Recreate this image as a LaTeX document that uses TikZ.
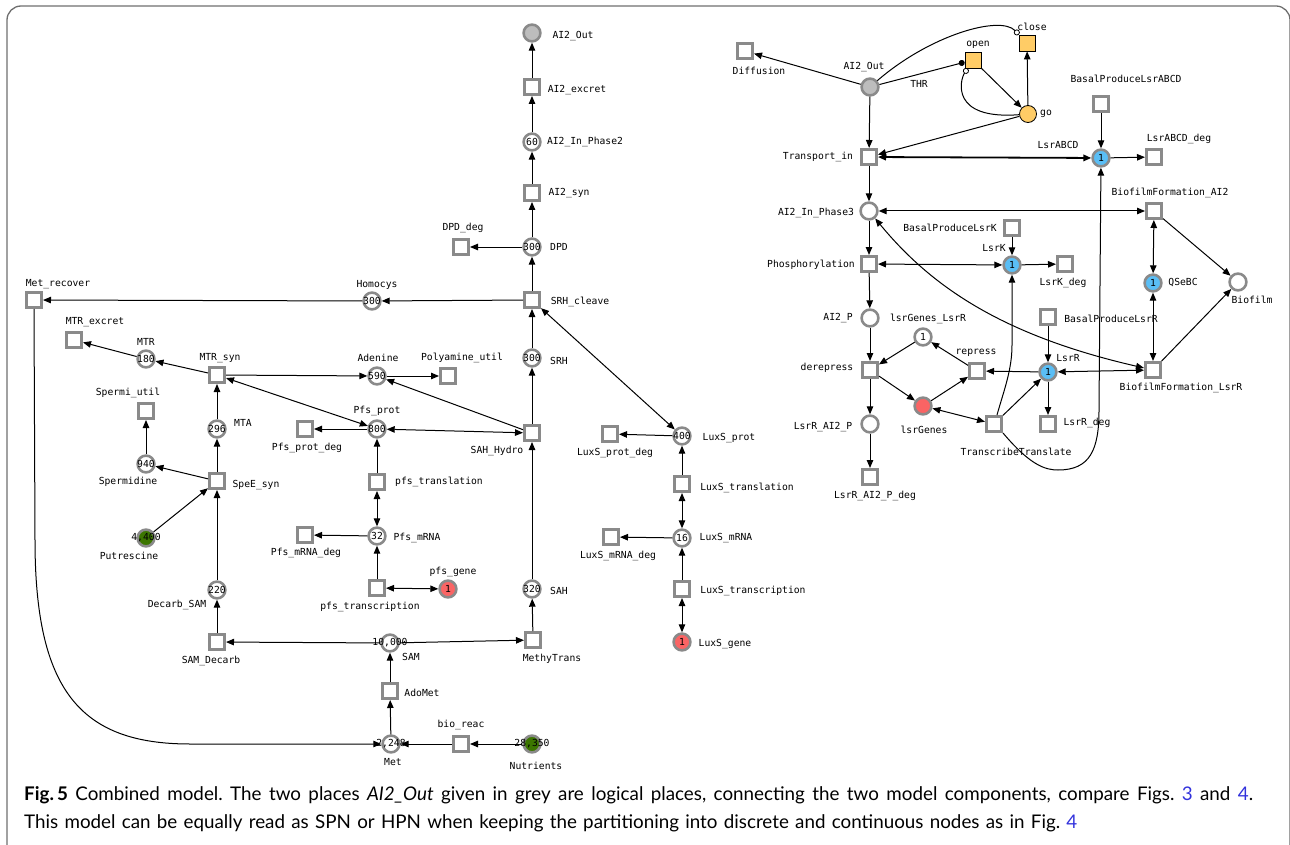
\documentclass[tikz,border=0pt]{standalone}
\usepackage{fontspec}
\usetikzlibrary{arrows.meta}
\newfontfamily\lblfont{DejaVu Sans Mono}
\newfontfamily\capfont{Lato}
\frenchspacing
\definecolor{bordergray}{HTML}{8A8A8A}
\definecolor{framegray}{HTML}{6E6E6E}
\definecolor{plblue}{RGB}{90,190,245}
\definecolor{plred}{RGB}{250,100,100}
\definecolor{plgreen}{RGB}{60,118,0}
\definecolor{plgrayfill}{HTML}{BDBDBD}
\definecolor{orangefill}{HTML}{FFCC66}
\definecolor{linkblue}{RGB}{50,50,220}
\newcommand{\lbl}{\lblfont\fontsize{9.7}{11}\selectfont}
\newcommand{\tok}[1]{\makebox[0pt][c]{#1}}
\tikzset{
  tr/.style={rectangle, draw=bordergray, line width=2.6pt, fill=white, minimum size=15.4pt, inner sep=0pt},
  pl/.style={circle, draw=bordergray, line width=2.6pt, fill=white, minimum size=16.8pt, inner sep=0pt, font=\lbl},
  plb/.style={pl, fill=plblue},
  plr/.style={pl, fill=plred},
  plg/.style={pl, fill=plgreen},
  plx/.style={pl, fill=plgrayfill},
  ctr/.style={rectangle, draw=black, line width=0.8pt, fill=orangefill, minimum size=16pt, inner sep=0pt},
  cpl/.style={circle, draw=black, line width=0.8pt, fill=orangefill, minimum size=17pt, inner sep=0pt},
  lab/.style={font=\lbl, inner sep=0pt},
  arc/.style={-{Triangle[length=8pt,width=6.5pt]}, line width=1pt},
  darc/.style={{Triangle[length=8pt,width=6.5pt]}-{Triangle[length=8pt,width=6.5pt]}, line width=1pt},
  dotarc/.style={-{Circle[length=6pt]}, line width=1pt},
  inharc/.style={-{Circle[open,length=6pt,line width=0.8pt]}, line width=1pt},
  captext/.style={anchor=base west, inner sep=0pt, font=\capfont\fontsize{18.8}{22}\selectfont},
}
\begin{document}
\begin{tikzpicture}[x=1pt,y=-1pt]
\useasboundingbox (0,0) rectangle (1290,845);
\draw[framegray, line width=1.3pt, rounded corners=14pt] (7,850) -- (7,6) -- (1290,6) -- (1290,850);

% ---------------- left component: places and transitions
\node[plx] (AI2Out1) at (532,33) {};
\node[tr] (AI2excret) at (532,87) {};
\node[pl] (AI2In2) at (532,142) {\tok{60}};
\node[tr] (AI2syn) at (532,193) {};
\node[pl] (DPD) at (532,247) {\tok{300}};
\node[tr] (DPDdeg) at (461,247) {};
\node[tr] (SRHcleave) at (532,300) {};
\node[pl] (Homocys) at (372,301) {\tok{300}};
\node[tr] (Metrecover) at (34,300) {};
\node[tr] (MTRexcret) at (74,340) {};
\node[pl] (MTR) at (146,359) {\tok{180}};
\node[tr] (MTRsyn) at (217,375) {};
\node[pl] (Adenine) at (377,376) {\tok{590}};
\node[tr] (Polyamineutil) at (448,376) {};
\node[pl] (SRH) at (532,358) {\tok{300}};
\node[pl] (Pfsprot) at (377,429) {\tok{800}};
\node[tr] (Pfsprotdeg) at (305,429) {};
\node[tr] (SAHHydro) at (532,433) {};
\node[tr] (Spermiutil) at (146,411) {};
\node[pl] (MTA) at (217,429) {\tok{296}};
\node[pl] (Spermidine) at (146,464) {\tok{940}};
\node[tr] (SpeEsyn) at (217,481) {};
\node[plg] (Putrescine) at (146,538) {\tok{4,400}};
\node[tr] (pfstranslation) at (377,482) {};
\node[pl] (PfsmRNA) at (377,536) {\tok{32}};
\node[tr] (PfsmRNAdeg) at (305,535) {};
\node[tr] (pfstranscription) at (377,588) {};
\node[plr] (pfsgene) at (448,589) {\tok{1}};
\node[pl] (DecarbSAM) at (217,590) {\tok{220}};
\node[tr] (SAMDecarb) at (217,642) {};
\node[pl] (SAM) at (390,643) {\tok{10,000}};
\node[tr] (MethyTrans) at (533,640) {};
\node[pl] (SAH) at (532,589) {\tok{320}};
\node[tr] (AdoMet) at (390,691) {};
\node[pl] (Met) at (391,744) {\tok{2,248}};
\node[tr] (bioreac) at (461,744) {};
\node[plg] (Nutrients) at (532,744) {\tok{28,350}};
\node[pl] (LuxSprot) at (682,436) {\tok{400}};
\node[tr] (LuxSprotdeg) at (610,434) {};
\node[tr] (LuxStranslation) at (682,484) {};
\node[pl] (LuxSmRNA) at (682,538) {\tok{16}};
\node[tr] (LuxSmRNAdeg) at (611,537) {};
\node[tr] (LuxStranscription) at (682,589) {};
\node[plr] (LuxSgene) at (682,642) {\tok{1}};

% labels left
\node[lab] (l-AI2Out1) at (573,36) {AI2\_Out};
\node[lab] (l-AI2excret) at (577,90) {AI2\_excret};
\node[lab] (l-AI2In2) at (585,142) {AI2\_In\_Phase2};
\node[lab] (l-AI2syn) at (569,193) {AI2\_syn};
\node[lab] (l-DPD) at (559,247) {DPD};
\node[lab] (l-DPDdeg) at (463,228) {DPD\_deg};
\node[lab] (l-SRHcleave) at (580,302) {SRH\_cleave};
\node[lab] (l-Homocys) at (377,285) {Homocys};
\node[lab] (l-Metrecover) at (58,284) {Met\_recover};
\node[lab] (l-MTRexcret) at (95,322) {MTR\_excret};
\node[lab] (l-MTR) at (146,342) {MTR};
\node[lab] (l-MTRsyn) at (220,358) {MTR\_syn};
\node[lab] (l-Adenine) at (378,358) {Adenine};
\node[lab] (l-Polyamineutil) at (462,358) {Polyamine\_util};
\node[lab] (l-SRH) at (559,361) {SRH};
\node[lab] (l-Pfsprot) at (377,411) {Pfs\_prot};
\node[lab] (l-Pfsprotdeg) at (307,448) {Pfs\_prot\_deg};
\node[lab] (l-SAHHydro) at (497,451) {SAH\_Hydro};
\node[lab] (l-Spermiutil) at (128,393) {Spermi\_util};
\node[lab] (l-MTA) at (243,423) {MTA};
\node[lab] (l-Spermidine) at (128,482) {Spermidine};
\node[lab] (l-SpeEsyn) at (256,485) {SpeE\_syn};
\node[lab] (l-Putrescine) at (129,556) {Putrescine};
\node[lab] (l-pfstranslation) at (439,482) {pfs\_translation};
\node[lab] (l-PfsmRNA) at (417,538) {Pfs\_mRNA};
\node[lab] (l-PfsmRNAdeg) at (306,553) {Pfs\_mRNA\_deg};
\node[lab] (l-pfstranscription) at (370,607) {pfs\_transcription};
\node[lab] (l-pfsgene) at (453,572) {pfs\_gene};
\node[lab] (l-DecarbSAM) at (177,605) {Decarb\_SAM};
\node[lab] (l-SAMDecarb) at (211,661) {SAM\_Decarb};
\node[lab] (l-SAM) at (411,657) {SAM};
\node[lab] (l-MethyTrans) at (552,659) {MethyTrans};
\node[lab] (l-SAH) at (559,591) {SAH};
\node[lab] (l-AdoMet) at (422,693) {AdoMet};
\node[lab] (l-Met) at (393,762) {Met};
\node[lab] (l-bioreac) at (461,725) {bio\_reac};
\node[lab] (l-Nutrients) at (536,766) {Nutrients};
\node[lab] (l-LuxSprot) at (729,438) {LuxS\_prot};
\node[lab] (l-LuxSprotdeg) at (615,453) {LuxS\_prot\_deg};
\node[lab] (l-LuxStranslation) at (747,488) {LuxS\_translation};
\node[lab] (l-LuxSmRNA) at (726,538) {LuxS\_mRNA};
\node[lab] (l-LuxSmRNAdeg) at (618,556) {LuxS\_mRNA\_deg};
\node[lab] (l-LuxStranscription) at (753,591) {LuxS\_transcription};
\node[lab] (l-LuxSgene) at (725,644) {LuxS\_gene};

% ---------------- right component
\node[plx] (AI2Out2) at (870,87) {};
\node[tr] (Diffusion) at (745,51) {};
\node[ctr] (open) at (973,60) {};
\node[ctr] (close) at (1027,43) {};
\node[cpl] (go) at (1028,114) {};
\node[tr] (Transportin) at (869,157) {};
\node[pl] (AI2In3) at (869,211) {};
\node[tr] (Phosphorylation) at (869,264) {};
\node[pl] (AI2P) at (870,318) {};
\node[tr] (derepress) at (870,370) {};
\node[pl] (LsrRAI2P) at (870,424) {};
\node[tr] (LsrRAI2Pdeg) at (870,477) {};
\node[pl] (lsrGenesLsrR) at (923,337) {\tok{1}};
\node[tr] (repress) at (977,371) {};
\node[plr] (lsrGenes) at (923,406) {};
\node[tr] (TT) at (994,424) {};
\node[plb] (LsrR) at (1048,372) {\tok{1}};
\node[tr] (BasalLsrR) at (1048,317) {};
\node[tr] (LsrRdeg) at (1048,424) {};
\node[tr] (BFL) at (1153,370) {};
\node[plb] (LsrK) at (1012,265) {\tok{1}};
\node[tr] (BasalLsrK) at (1012,228) {};
\node[tr] (LsrKdeg) at (1065,264) {};
\node[plb] (LsrABCD) at (1101,158) {\tok{1}};
\node[tr] (BasalLsrABCD) at (1101,104) {};
\node[tr] (LsrABCDdeg) at (1154,157) {};
\node[tr] (BFA2) at (1154,211) {};
\node[plb] (QSeBC) at (1153,283) {\tok{1}};
\node[pl] (Biofilm) at (1238,282) {};

% labels right
\node[lab] (l-AI2Out2) at (864,67) {AI2\_Out};
\node[lab] (l-THR) at (919,84) {THR};
\node[lab] (l-Diffusion) at (759,71) {Diffusion};
\node[lab] (l-open) at (978,45) {open};
\node[lab] (l-close) at (1032,27) {close};
\node[lab] (l-go) at (1046,114) {go};
\node[lab] (l-Transportin) at (818,157) {Transport\_in};
\node[lab] (l-AI2In3) at (816,213) {AI2\_In\_Phase3};
\node[lab] (l-Phosphorylation) at (811,265) {Phosphorylation};
\node[lab] (l-AI2P) at (838,318) {AI2\_P};
\node[lab] (l-derepress) at (827,368) {derepress};
\node[lab] (l-LsrRAI2P) at (823,427) {LsrR\_AI2\_P};
\node[lab] (l-LsrRAI2Pdeg) at (875,496) {LsrR\_AI2\_P\_deg};
\node[lab] (l-lsrGenesLsrR) at (928,319) {lsrGenes\_LsrR};
\node[lab] (l-repress) at (976,353) {repress};
\node[lab] (l-lsrGenes) at (924,430) {lsrGenes};
\node[lab] (l-TT) at (1016,452) {TranscribeTranslate};
\node[lab] (l-LsrR) at (1068,358) {LsrR};
\node[lab] (l-BasalLsrR) at (1111,319) {BasalProduceLsrR};
\node[lab] (l-LsrRdeg) at (1087,423) {LsrR\_deg};
\node[lab] (l-BFL) at (1181,388) {BiofilmFormation\_LsrR};
\node[lab] (l-LsrK) at (994,248) {LsrK};
\node[lab] (l-BasalLsrK) at (950,228) {BasalProduceLsrK};
\node[lab] (l-LsrKdeg) at (1063,283) {LsrK\_deg};
\node[lab] (l-LsrABCD) at (1058,145) {LsrABCD};
\node[lab] (l-BasalLsrABCD) at (1126,79) {BasalProduceLsrABCD};
\node[lab] (l-LsrABCDdeg) at (1179,139) {LsrABCD\_deg};
\node[lab] (l-BFA2) at (1170,193) {BiofilmFormation\_AI2};
\node[lab] (l-QSeBC) at (1183,283) {QSeBC};
\node[lab] (l-Biofilm) at (1252,300) {Biofilm};

% ---------------- arcs left
\draw[arc] (AI2excret) -- (AI2Out1);
\draw[arc] (AI2In2) -- (AI2excret);
\draw[arc] (AI2syn) -- (AI2In2);
\draw[arc] (DPD) -- (AI2syn);
\draw[arc] (DPD) -- (DPDdeg);
\draw[arc] (SRHcleave) -- (DPD);
\draw[arc] (SRHcleave) -- (Homocys);
\draw[arc] (Homocys) -- (Metrecover);
\draw[arc] (Metrecover.south) -- (35,540) .. controls (35,690) and (80,744) .. (190,744) -- (Met);
\draw[arc] (MTRsyn) -- (MTR);
\draw[arc] (MTR) -- (MTRexcret);
\draw[arc] (MTRsyn) -- (Adenine);
\draw[darc] (Pfsprot) -- (MTRsyn);
\draw[arc] (Adenine) -- (Polyamineutil);
\draw[arc] (SAHHydro) -- (Adenine);
\draw[darc] (SAHHydro) -- (Pfsprot);
\draw[arc] (Pfsprot) -- (Pfsprotdeg);
\draw[arc] (pfstranslation) -- (Pfsprot);
\draw[darc] (pfstranslation) -- (PfsmRNA);
\draw[arc] (PfsmRNA) -- (PfsmRNAdeg);
\draw[arc] (pfstranscription) -- (PfsmRNA);
\draw[darc] (pfstranscription) -- (pfsgene);
\draw[arc] (SAHHydro) -- (SRH);
\draw[arc] (SRH) -- (SRHcleave);
\draw[arc] (SAH) -- (SAHHydro);
\draw[arc] (MethyTrans) -- (SAH);
\draw[arc] (SAM) -- (MethyTrans);
\draw[arc] (SAM) -- (SAMDecarb);
\draw[arc] (SAMDecarb) -- (DecarbSAM);
\draw[arc] (DecarbSAM) -- (SpeEsyn);
\draw[arc] (Putrescine) -- (SpeEsyn);
\draw[arc] (SpeEsyn) -- (Spermidine);
\draw[arc] (Spermidine) -- (Spermiutil);
\draw[arc] (SpeEsyn) -- (MTA);
\draw[arc] (MTA) -- (MTRsyn);
\draw[arc] (Met) -- (AdoMet);
\draw[arc] (AdoMet) -- (SAM);
\draw[arc] (bioreac) -- (Met);
\draw[arc] (Nutrients) -- (bioreac);
\draw[darc] (SRHcleave) -- (LuxSprot);
\draw[arc] (LuxSprot) -- (LuxSprotdeg);
\draw[arc] (LuxStranslation) -- (LuxSprot);
\draw[darc] (LuxStranslation) -- (LuxSmRNA);
\draw[arc] (LuxSmRNA) -- (LuxSmRNAdeg);
\draw[arc] (LuxStranscription) -- (LuxSmRNA);
\draw[darc] (LuxStranscription) -- (LuxSgene);

% ---------------- arcs right
\draw[arc] (AI2Out2) -- (Diffusion);
\draw[dotarc] (AI2Out2) -- (open);
\draw[inharc] (AI2Out2) .. controls (930,35) and (1000,15) .. (close);
\draw[arc] (open) -- (go);
\draw[inharc] (go) .. controls (950,120) and (960,80) .. (open);
\draw[arc] (go) -- (close);
\draw[arc] (go) -- (Transportin);
\draw[arc] (AI2Out2) -- (Transportin);
\draw[arc] (Transportin) -- (AI2In3);
\draw[arc] (AI2In3) -- (Phosphorylation);
\draw[arc] (Phosphorylation) -- (AI2P);
\draw[arc] (AI2P) -- (derepress);
\draw[arc] (derepress) -- (LsrRAI2P);
\draw[arc] (LsrRAI2P) -- (LsrRAI2Pdeg);
\draw[darc, line width=1.8pt] (Transportin) -- (LsrABCD);
\draw[arc] (BasalLsrABCD) -- (LsrABCD);
\draw[arc] (LsrABCD) -- (LsrABCDdeg);
\draw[darc] (AI2In3) -- (BFA2);
\draw[darc] (Phosphorylation) -- (LsrK);
\draw[arc] (BasalLsrK) -- (LsrK);
\draw[arc] (LsrK) -- (LsrKdeg);
\draw[darc] (BFA2) -- (QSeBC);
\draw[darc] (QSeBC) -- (BFL);
\draw[arc] (BFA2) -- (Biofilm);
\draw[arc] (BFL) -- (Biofilm);
\draw[darc] (AI2In3) .. controls (930,285) and (1000,335) .. (BFL);
\draw[darc] (LsrR) -- (BFL);
\draw[arc] (BasalLsrR) -- (LsrR);
\draw[arc] (LsrR) -- (LsrRdeg);
\draw[arc] (LsrR) -- (repress);
\draw[arc] (TT) -- (LsrR);
\draw[arc] ([xshift=3pt]TT.north) .. controls (1004,390) and (1012,370) .. (1012,345) -- (LsrK);
\draw[arc] (TT.south east) .. controls (1030,465) and (1045,470) .. (1058,470) .. controls (1090,470) and (1099,450) .. (1099,410) -- (LsrABCD);
\draw[darc] (lsrGenes) -- (TT);
\draw[arc] (lsrGenes) -- (repress);
\draw[arc] (repress) -- (lsrGenesLsrR);
\draw[arc] (lsrGenesLsrR) -- (derepress);
\draw[arc] (derepress) -- (lsrGenes);

% ---------------- caption
\node[captext] (cap1) at (24,800)
  {\makebox[1229pt][s]{\textbf{Fig.\,5} Combined model. The two places \textit{AI2\_Out} given in grey are logical places, connecting the two model components, compare Figs.~\textcolor{linkblue}{3} and \textcolor{linkblue}{4}.}};
\node[captext] (cap2) at (24,828)
  {\makebox[1053pt][s]{This model can be equally read as SPN or HPN when keeping the partitioning into discrete and continuous nodes as in Fig.~\textcolor{linkblue}{4}}};
\end{tikzpicture}
\end{document}
